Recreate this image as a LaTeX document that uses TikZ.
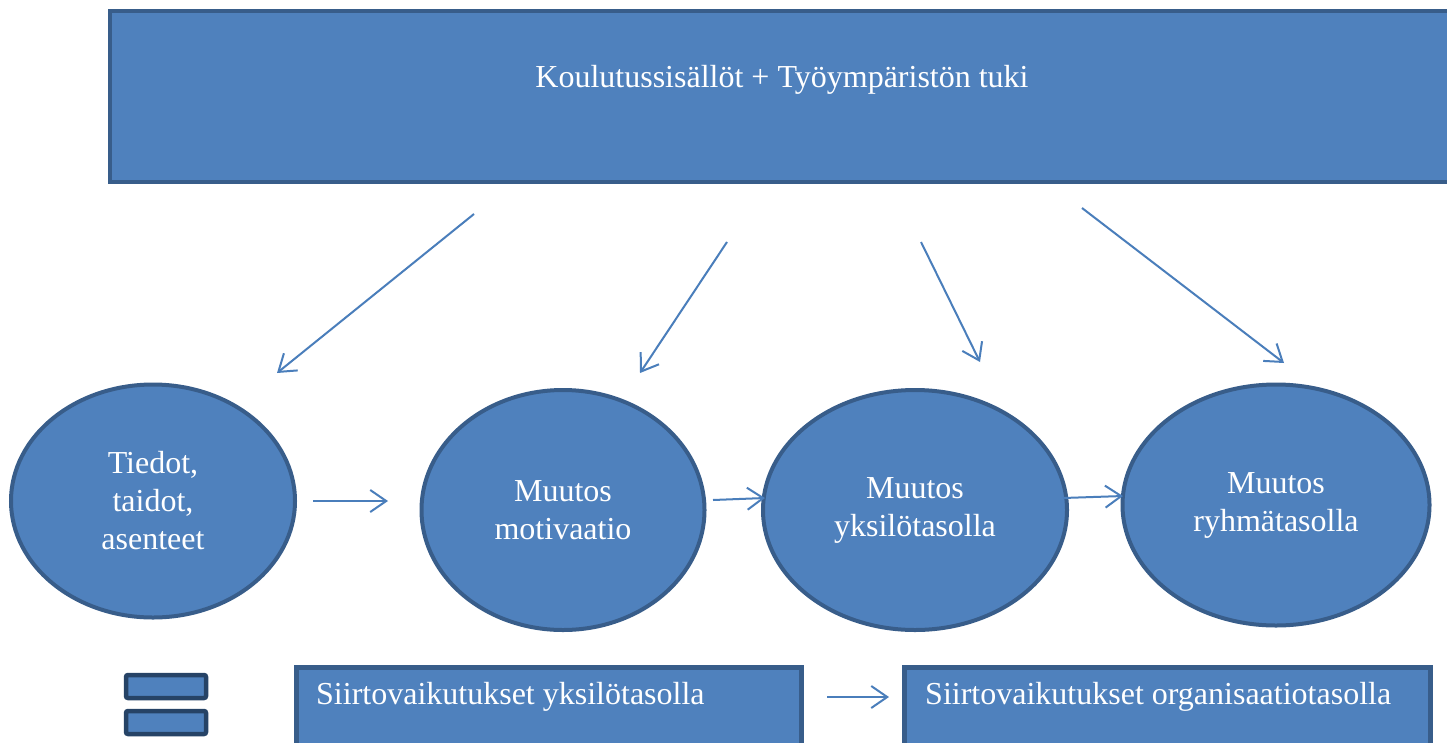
\documentclass[tikz,border=0pt]{standalone}
\usepackage{fontspec}
\setmainfont{Liberation Serif}
\usetikzlibrary{shapes.geometric,arrows.meta}
\definecolor{fillblue}{HTML}{4F81BD}
\definecolor{edgeblue}{HTML}{385D8A}
\definecolor{arrowblue}{HTML}{4A7EBB}
\definecolor{darknavy}{HTML}{264366}
\begin{document}
\begin{tikzpicture}[x=1pt,y=-1pt,
  blob/.style={ellipse, draw=edgeblue, fill=fillblue, line width=4pt, inner sep=0pt, align=center, text=white, font=\fontsize{32}{38}\selectfont},
  box/.style={rectangle, draw=edgeblue, fill=fillblue, line width=4.5pt, inner sep=0pt},
  boxtext/.style={text=white, inner sep=0pt, font=\fontsize{32}{38}\selectfont},
  bar/.style={rectangle, rounded corners=2pt, draw=darknavy, fill=fillblue, line width=4.5pt, minimum width=80pt, minimum height=23pt, inner sep=0pt},
  link/.style={draw=arrowblue, line width=2pt, -{Straight Barb[length=16pt,width=22pt]}}]
\clip (0,0) rectangle (1447,742);
\fill[white] (0,0) rectangle (1447,742);
% top box
\node[box, minimum width=1350pt, minimum height=171pt] (top) at (785,96.5) {};
\node[boxtext] (toptext) at (782,80) {Koulutussisällöt + Työympäristön tuki};
% ellipses
\node[blob, minimum width=284pt, minimum height=233pt] (e1) at (153,501) {Tiedot,\\taidot,\\asenteet};
\node[blob, minimum width=283pt, minimum height=240pt] (e2) at (563,510) {Muutos\\motivaatio};
\node[blob, minimum width=304pt, minimum height=240pt] (e3) at (915,510) {Muutos\\yksilötasolla};
\node[blob, minimum width=307pt, minimum height=241pt] (e4) at (1276,505) {Muutos\\ryhmätasolla};
% bottom boxes
\node[box, anchor=north west, minimum width=505pt, minimum height=120pt] (b1) at (294,665) {};
\node[boxtext, anchor=west] (b1text) at (316,697) {Siirtovaikutukset yksilötasolla};
\node[box, anchor=north west, minimum width=526pt, minimum height=120pt] (b2) at (902,665) {};
\node[boxtext, anchor=west] (b2text) at (925,697) {Siirtovaikutukset organisaatiotasolla};
% equals icon
\node[bar] (eq1) at (166,686.5) {};
\node[bar] (eq2) at (166,722.5) {};
% connector end points
\coordinate (a1s) at (474,214); \coordinate (a1e) at (277,373);
\coordinate (a2s) at (727,242); \coordinate (a2e) at (640,373);
\coordinate (a3s) at (921,242); \coordinate (a3e) at (980,362);
\coordinate (a4s) at (1082,208); \coordinate (a4e) at (1284,363);
\coordinate (h1s) at (313,501); \coordinate (h1e) at (388,501);
\coordinate (h2s) at (713,500); \coordinate (h2e) at (765,498);
\coordinate (h3s) at (1063,498); \coordinate (h3e) at (1123,496);
\coordinate (bs) at (827,697); \coordinate (be) at (889,697);
\draw[link] (a1s) -- (a1e);
\draw[link] (a2s) -- (a2e);
\draw[link] (a3s) -- (a3e);
\draw[link] (a4s) -- (a4e);
\draw[link] (h1s) -- (h1e);
\draw[link] (h2s) -- (h2e);
\draw[link] (h3s) -- (h3e);
\draw[link] (bs) -- (be);
\end{tikzpicture}
\end{document}
